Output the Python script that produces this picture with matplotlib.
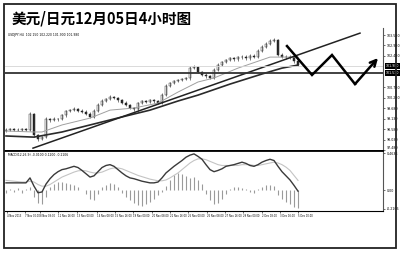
import numpy as np
import matplotlib
matplotlib.use('Agg')
import matplotlib.pyplot as plt
from matplotlib.patches import Rectangle

plt.rcParams['font.family'] = ['Noto Sans CJK SC', 'DejaVu Sans']

TITLE = '美元/日元12月05日4小时图'
INFO_MAIN = 'USDJPY,H4  102.150 102.220 101.900 101.980'
INFO_MACD = 'MACD(12,26,9) -0.0100 0.1200 -0.2106'

# H4 candles (price)
opens = [98.50, 98.55, 98.58, 98.52, 98.56, 98.60, 98.54, 99.40, 98.25, 98.05,
         98.15, 99.10, 99.05, 99.12, 99.10, 99.30, 99.52, 99.58, 99.62, 99.55,
         99.50, 99.40, 99.22, 99.55, 99.85, 100.05, 100.15, 100.27, 100.22, 100.10,
         99.98, 99.85, 99.70, 99.62, 99.95, 100.05, 100.00, 100.10, 100.05, 99.98,
         100.40, 100.85, 101.00, 101.10, 101.15, 101.20, 101.25, 101.80, 101.85, 101.60,
         101.45, 101.35, 101.28, 101.70, 101.95, 102.10, 102.20, 102.30, 102.25, 102.35,
         102.40, 102.30, 102.45, 102.40, 102.70, 102.90, 103.05, 103.20, 103.25, 102.50,
         102.40, 102.35, 102.40, 102.15]
closes = [98.55, 98.58, 98.52, 98.56, 98.60, 98.54, 99.40, 98.25, 98.05, 98.15,
          99.10, 99.05, 99.12, 99.10, 99.30, 99.52, 99.58, 99.62, 99.55, 99.50,
          99.40, 99.22, 99.55, 99.85, 100.05, 100.15, 100.27, 100.22, 100.10, 99.98,
          99.85, 99.70, 99.62, 99.95, 100.05, 100.00, 100.10, 100.05, 99.98, 100.40,
          100.85, 101.00, 101.10, 101.15, 101.20, 101.25, 101.80, 101.85, 101.60, 101.45,
          101.35, 101.28, 101.70, 101.95, 102.10, 102.20, 102.30, 102.25, 102.35, 102.40,
          102.30, 102.45, 102.40, 102.70, 102.90, 103.05, 103.20, 103.25, 102.50, 102.40,
          102.35, 102.40, 102.15, 101.98]
highs = [98.62, 98.64, 98.63, 98.62, 98.66, 98.65, 99.48, 99.45, 98.32, 98.24,
         99.20, 99.18, 99.20, 99.19, 99.38, 99.60, 99.66, 99.72, 99.68, 99.62,
         99.57, 99.46, 99.62, 99.94, 100.14, 100.24, 100.36, 100.33, 100.28, 100.16,
         100.05, 99.91, 99.76, 100.03, 100.12, 100.11, 100.17, 100.16, 100.11, 100.48,
         100.95, 101.08, 101.18, 101.22, 101.27, 101.33, 101.90, 101.95, 101.92, 101.66,
         101.51, 101.41, 101.78, 102.04, 102.18, 102.28, 102.38, 102.36, 102.43, 102.48,
         102.46, 102.53, 102.51, 102.80, 103.00, 103.14, 103.30, 103.38, 103.30, 102.57,
         102.47, 102.48, 102.46, 102.22]
lows = [98.44, 98.49, 98.46, 98.47, 98.50, 98.48, 98.50, 98.18, 97.98, 97.99,
        98.10, 98.98, 98.99, 99.03, 99.04, 99.24, 99.46, 99.52, 99.48, 99.44,
        99.33, 99.15, 99.16, 99.49, 99.79, 99.99, 100.09, 100.15, 100.03, 99.91,
        99.78, 99.63, 99.55, 99.56, 99.89, 99.93, 99.94, 99.98, 99.91, 99.92,
        100.34, 100.79, 100.94, 101.04, 101.09, 101.14, 101.19, 101.74, 101.53, 101.38,
        101.28, 101.21, 101.22, 101.64, 101.89, 102.04, 102.14, 102.18, 102.19, 102.29,
        102.23, 102.24, 102.33, 102.34, 102.64, 102.84, 102.99, 103.14, 102.42, 102.32,
        102.28, 102.29, 102.08, 101.90]

# moving averages read at selected bars
fast_ma_bar = [0, 7, 9, 14, 21, 26, 32, 38, 43, 48, 52, 58, 66, 73]
fast_ma = [98.48, 98.43, 98.43, 98.80, 99.16, 99.58, 99.69, 99.95, 100.53, 101.06,
           101.27, 101.79, 102.37, 102.37]
slow_ma_bar = [0, 7, 14, 21, 29, 36, 43, 48, 56, 64, 69, 73]
slow_ma = [98.22, 98.16, 98.43, 98.80, 99.22, 99.58, 100.06, 100.37, 100.95, 101.48,
           101.79, 101.95]

# drawn objects
trend_bar = [6.75, 88.5]
trend_price = [97.58, 103.63]
support_price = 101.53
bid_price = 101.90
zigzag_bar = [70.25, 76.5, 81.5, 87.25, 93.0]
zigzag_price = [102.95, 101.43, 102.48, 100.95, 102.32]

# MACD panel
macd_line = [0.09, 0.09, 0.09, 0.09, 0.09, 0.09, 0.15, 0.05, -0.03, -0.02,
             0.075, 0.14, 0.19, 0.225, 0.25, 0.26, 0.275, 0.29, 0.275, 0.24,
             0.20, 0.16, 0.175, 0.225, 0.275, 0.30, 0.31, 0.29, 0.25, 0.21,
             0.175, 0.15, 0.14, 0.125, 0.11, 0.10, 0.09, 0.09, 0.10, 0.15,
             0.21, 0.25, 0.29, 0.325, 0.36, 0.40, 0.425, 0.44, 0.41, 0.375,
             0.31, 0.25, 0.225, 0.24, 0.26, 0.29, 0.30, 0.31, 0.325, 0.34,
             0.325, 0.30, 0.29, 0.31, 0.34, 0.36, 0.375, 0.36, 0.29, 0.225,
             0.175, 0.125, 0.06, -0.01]
signal_line = [0.12, 0.115, 0.11, 0.105, 0.10, 0.10, 0.11, 0.10, 0.07, 0.05,
               0.05, 0.07, 0.10, 0.13, 0.16, 0.18, 0.20, 0.22, 0.235, 0.24,
               0.235, 0.22, 0.21, 0.21, 0.22, 0.24, 0.26, 0.27, 0.27, 0.26,
               0.24, 0.22, 0.20, 0.18, 0.165, 0.15, 0.135, 0.125, 0.115, 0.115,
               0.125, 0.15, 0.18, 0.21, 0.25, 0.29, 0.33, 0.36, 0.38, 0.38,
               0.37, 0.35, 0.33, 0.31, 0.30, 0.30, 0.30, 0.30, 0.30, 0.31,
               0.31, 0.31, 0.30, 0.30, 0.31, 0.32, 0.33, 0.34, 0.33, 0.31,
               0.28, 0.24, 0.18, 0.12]
histogram = [-0.03, 0.02, -0.02, 0.03, -0.03, 0.02, 0.04, -0.08, -0.15, -0.16,
             -0.08, 0.04, 0.08, 0.10, 0.10, 0.09, 0.08, 0.06, 0.04, 0.0,
             -0.04, -0.10, -0.12, -0.05, 0.04, 0.07, 0.09, 0.08, 0.04, -0.03,
             -0.08, -0.12, -0.15, -0.18, -0.19, -0.17, -0.14, -0.10, -0.06, -0.02,
             0.05, 0.12, 0.18, 0.21, 0.20, 0.17, 0.15, 0.16, 0.13, 0.08,
             -0.05, -0.12, -0.16, -0.15, -0.10, -0.05, 0.02, 0.04, 0.04, 0.03,
             0.02, -0.02, -0.03, 0.01, 0.04, 0.06, 0.06, 0.05, -0.06, -0.10,
             -0.14, -0.17, -0.20, -0.21]

price_ticks = [97.480, 98.030, 98.580, 99.130, 99.680, 100.230, 100.780,
               102.430, 102.980, 103.530]
macd_ticks = [0.45, 0.0, -0.225]
macd_tick_labels = ['0.4634', '0.00', '-0.2106']
date_bars = [0.25, 4.8, 8.55, 13.1, 17.85, 22.8, 27.25, 31.75, 36.5, 41.0,
             45.5, 50.25, 54.75, 59.25, 64.0, 68.5, 73.0]
date_labels = ['4 Nov 2013', '7 Nov 00:00', '8 Nov 08:00', '11 Nov 16:00',
               '13 Nov 00:00', '14 Nov 08:00', '15 Nov 16:00', '19 Nov 00:00',
               '20 Nov 08:00', '21 Nov 16:00', '25 Nov 00:00', '26 Nov 08:00',
               '27 Nov 16:00', '29 Nov 00:00', '2 Dec 08:00', '3 Dec 16:00',
               '5 Dec 00:00']

W, H = 400, 254


def px_box(x0, y0, x1, y1):
    # pixel rectangle -> figure fraction
    return [x0 / W, 1 - y1 / H, (x1 - x0) / W, (y1 - y0) / H]


fig = plt.figure(figsize=(W / 100, H / 100), dpi=100)
fig.patch.set_facecolor('white')
ax = fig.add_axes(px_box(5, 28, 383, 151))
ax2 = fig.add_axes(px_box(5, 151, 383, 211), sharex=ax)

bars = np.arange(len(closes))
o = np.array(opens)
c = np.array(closes)

# candles
ax.vlines(bars, lows, highs, color='#333333', lw=0.45)
up = c >= o
ax.bar(bars[up], (c - o)[up], bottom=o[up], width=0.5, color='white',
       edgecolor='#333333', lw=0.35)
ax.bar(bars[~up], (o - c)[~up], bottom=c[~up], width=0.5, color='#222222',
       edgecolor='#222222', lw=0.35)

ax.plot(fast_ma_bar, fast_ma, color='#a0a0a0', lw=0.7)
ax.plot(slow_ma_bar, slow_ma, color='#2a2a2a', lw=1.2)
ax.plot(trend_bar, trend_price, color='#222222', lw=1.1)
ax.axhline(support_price, color='#333333', lw=1.3)
ax.axhline(bid_price, color='#d5d5d5', lw=0.6)

ax.plot(zigzag_bar[:-1], zigzag_price[:-1], color='black', lw=1.8,
        solid_joinstyle='miter')
ax.annotate('', xy=(zigzag_bar[-1], zigzag_price[-1]),
            xytext=(zigzag_bar[-2], zigzag_price[-2]),
            arrowprops=dict(arrowstyle='->', lw=1.8, color='black',
                            mutation_scale=11, shrinkA=0, shrinkB=0))

ax.set_xlim(-0.25, 94.25)
ax.set_ylim(97.43, 103.90)

for sp in ['top', 'left']:
    ax.spines[sp].set_visible(False)
ax.spines['right'].set_linewidth(0.8)
ax.spines['right'].set_color('#555555')
ax.spines['bottom'].set_linewidth(1.3)
ax.yaxis.tick_right()
ax.set_yticks(price_ticks)
ax.set_yticklabels([f'{p:.3f}' for p in price_ticks], fontsize=2.3,
                   family=['DejaVu Sans'])
ax.get_yticklabels()[0].set_va('bottom')
ax.tick_params(axis='y', length=1.5, width=0.4, pad=1)
ax.tick_params(axis='x', bottom=False, labelbottom=False)

for p, txt in [(bid_price, '101.980'), (support_price, '101.530')]:
    ax.text(1.008, p, txt, transform=ax.get_yaxis_transform(), fontsize=2.3,
            color='white', va='center', ha='left', clip_on=False,
            family=['DejaVu Sans'], bbox=dict(fc='black', ec='none', pad=0.6))

ax.text(0.008, 0.94, INFO_MAIN, transform=ax.transAxes, fontsize=2.2,
        va='center', ha='left', family=['DejaVu Sans'])

# MACD
ax2.vlines(bars, 0, histogram, color='#9a9a9a', lw=0.8)
ax2.plot(bars, signal_line, color='#c4c4c4', lw=0.8)
ax2.plot(bars, macd_line, color='#3a3a3a', lw=1.0)
ax2.set_ylim(-0.25, 0.475)
ax2.spines['left'].set_visible(False)
ax2.spines['top'].set_linewidth(1.3)
ax2.spines['right'].set_linewidth(0.8)
ax2.spines['right'].set_color('#555555')
ax2.spines['bottom'].set_linewidth(0.8)
ax2.yaxis.tick_right()
ax2.set_yticks(macd_ticks)
ax2.set_yticklabels(macd_tick_labels, fontsize=2.3, family=['DejaVu Sans'])
ax2.tick_params(axis='y', length=1.5, width=0.4, pad=1)
ax2.set_xticks(date_bars)
ax2.set_xticklabels(date_labels, fontsize=1.8, ha='left', family=['DejaVu Sans'])
ax2.tick_params(axis='x', length=1.5, width=0.4, pad=0.8)
ax2.text(0.008, 0.93, INFO_MACD, transform=ax2.transAxes, fontsize=2.2,
         va='center', ha='left', family=['DejaVu Sans'])

fig.text(12 / W, 1 - 18 / H, TITLE, fontsize=10.5, fontweight='bold',
         va='center', ha='left')

fig.add_artist(Rectangle((4 / W, 1 - 248 / H), 392 / W, 244 / H,
                         transform=fig.transFigure, fill=False, lw=1.3,
                         ec='#222222'))

fig.savefig('out.png', dpi=100)
